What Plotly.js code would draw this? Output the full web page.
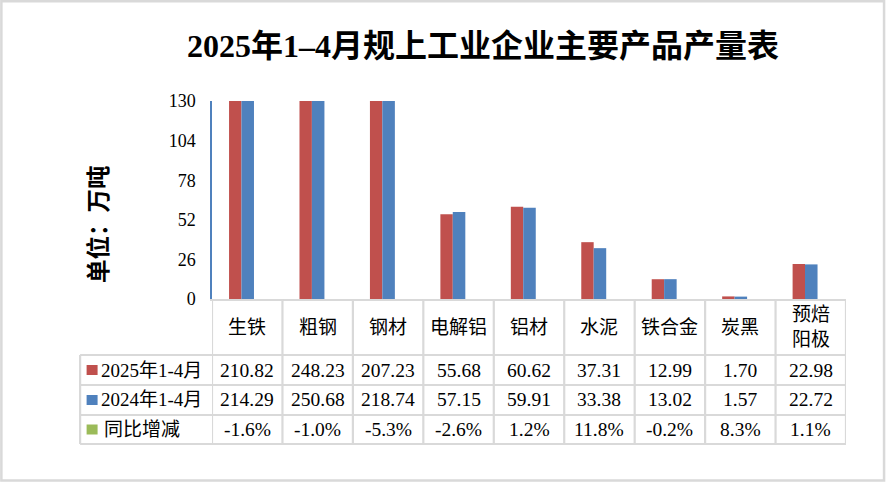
<!DOCTYPE html>
<html>
<head>
<meta charset="utf-8">
<script src="https://cdn.plot.ly/plotly-3.0.1.min.js"></script>
<style>html,body{margin:0;padding:0;background:#fff;}#chart{width:886px;height:482px;}</style>
</head>
<body>
<div id="chart"></div>
<script>
// ---- data ----
var categories = ['生铁', '粗钢', '钢材', '电解铝', '铝材', '水泥', '铁合金', '炭黑', '预焙阳极'];
var values2025 = [210.82, 248.23, 207.23, 55.68, 60.62, 37.31, 12.99, 1.70, 22.98];
var values2024 = [214.29, 250.68, 218.74, 57.15, 59.91, 33.38, 13.02, 1.57, 22.72];
var yoyChange = [-1.6, -1.0, -5.3, -2.6, 1.2, 11.8, -0.2, 8.3, 1.1];
var seriesNames = ['2025年1-4月', '2024年1-4月', '同比增减'];
var yTicks = [0, 26, 52, 78, 104, 130];

var RED = '#c0504d', BLUE = '#4f81bd', GREEN = '#9bbb59', GRID = '#d9d9d9';
var FONT = "'Liberation Serif', 'Times New Roman', 'Noto Sans CJK SC', serif";

// pixel -> paper helpers (plot area: x 212..846.5, y 101..299)
var L = 212, R = 846.5, T = 101, B = 299;
function px(x) { return (x - L) / (R - L); }
function py(y) { return (B - y) / (B - T); }

var traces = [
  { type: 'bar', x: categories, y: values2025, name: seriesNames[0],
    marker: { color: RED }, offset: -0.258, width: 0.176, hoverinfo: 'none' },
  { type: 'bar', x: categories, y: values2024, name: seriesNames[1],
    marker: { color: BLUE }, offset: -0.082, width: 0.178, hoverinfo: 'none' }
];

var shapes = [];
var annotations = [];

// outer frame
shapes.push({ type: 'rect', xref: 'paper', yref: 'paper', x0: px(1.2), x1: px(884.6), y0: py(1.2), y1: py(480.6),
  line: { color: GRID, width: 2.5 } });

// table lines
var rowLines = [355, 385, 415, 444];
rowLines.forEach(function (yy) {
  shapes.push({ type: 'line', xref: 'paper', yref: 'paper', x0: px(80), x1: 1, y0: py(yy), y1: py(yy),
    line: { color: GRID, width: 2.2 } });
});
shapes.push({ type: 'line', xref: 'paper', yref: 'paper', x0: px(80), x1: px(80), y0: py(355), y1: py(444),
  line: { color: GRID, width: 2.2 } });
for (var i = 0; i <= categories.length; i++) {
  shapes.push({ type: 'line', xref: 'x', yref: 'paper', x0: i - 0.5, x1: i - 0.5, y0: py(299), y1: py(444),
    line: { color: GRID, width: 2.2 } });
}

// header labels
categories.forEach(function (c) {
  var label = c.length > 3 ? c.slice(0, 2) + '<br>' + c.slice(2) : c;
  annotations.push({ xref: 'x', yref: 'paper', x: c, y: py(327), text: label, showarrow: false,
    xanchor: 'center', yanchor: 'middle', font: { family: FONT, size: 19, color: '#000' } });
});

// data rows
var rowCenters = [370, 400, 429.5];
var rowData = [
  values2025.map(function (v) { return v.toFixed(2); }),
  values2024.map(function (v) { return v.toFixed(2); }),
  yoyChange.map(function (v) { return v.toFixed(1) + '%'; })
];
var keyColors = [RED, BLUE, GREEN];
rowData.forEach(function (row, r) {
  row.forEach(function (txt, i) {
    annotations.push({ xref: 'x', yref: 'paper', x: categories[i], y: py(rowCenters[r]), text: txt, showarrow: false,
      xanchor: 'center', yanchor: 'middle', font: { family: FONT, size: 19.5, color: '#000' } });
  });
  // legend key
  shapes.push({ type: 'rect', xref: 'paper', yref: 'paper', x0: px(86.5), x1: px(97.5),
    y0: py(rowCenters[r] - 5), y1: py(rowCenters[r] + 5), fillcolor: keyColors[r], line: { width: 0 } });
  annotations.push({ xref: 'paper', yref: 'paper', x: px(r === 2 ? 102 : 99), y: py(rowCenters[r]), text: seriesNames[r],
    showarrow: false, xanchor: 'left', yanchor: 'middle', font: { family: FONT, size: 19, color: '#000' } });
});

// y axis title
annotations.push({ xref: 'paper', yref: 'paper', x: px(98), y: py(224), text: '<b>单位：万吨</b>', textangle: -90,
  showarrow: false, xanchor: 'center', yanchor: 'middle', font: { family: FONT, size: 23.5, color: '#000' } });

var layout = {
  width: 886, height: 482,
  margin: { l: L, r: 886 - R, t: T, b: 482 - B, pad: 0 },
  paper_bgcolor: '#fff', plot_bgcolor: '#fff',
  showlegend: false,
  barmode: 'overlay',
  title: { text: '<b>2025年1–4月规上工业企业主要产品产量表</b>', x: 483 / 886, xanchor: 'center',
    y: 1 - 46 / 482, yanchor: 'middle', font: { family: FONT, size: 32, color: '#000' } },
  xaxis: { type: 'category', showticklabels: false, showgrid: false, zeroline: false, ticks: '',
    showline: true, linecolor: GRID, linewidth: 2.2, range: [-0.5, categories.length - 0.5], fixedrange: true },
  yaxis: { range: [0, 130], tickvals: yTicks, ticktext: yTicks.map(String), showgrid: false, zeroline: false,
    showline: true, linecolor: BLUE, linewidth: 1.6, ticks: '', ticklabelstandoff: 11,
    tickfont: { family: FONT, size: 18, color: '#000' }, fixedrange: true },
  shapes: shapes,
  annotations: annotations,
  font: { family: FONT }
};

Plotly.newPlot('chart', traces, layout, { displayModeBar: false, staticPlot: true });
</script>
</body>
</html>
